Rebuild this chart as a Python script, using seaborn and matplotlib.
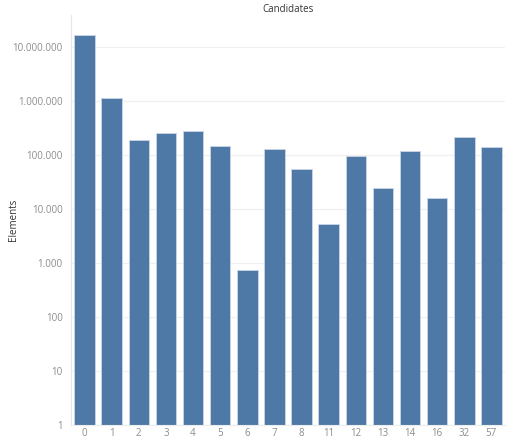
import matplotlib
matplotlib.use("Agg")
import matplotlib.pyplot as plt
import matplotlib.ticker as mticker
import seaborn as sns
import pandas as pd

# Number of elements per candidate count
candidates = ["0", "1", "2", "3", "4", "5", "6", "7", "8", "11", "12", "13", "14", "16", "32", "57"]
elements = [16600000, 1120000, 187000, 252000, 277000, 148000, 740, 127000,
            55000, 5300, 97000, 24700, 118000, 15900, 219000, 141000]
y_ticks = [1, 10, 100, 1000, 10000, 100000, 1000000, 10000000]

df = pd.DataFrame({"Candidates": candidates, "Elements": elements})

sns.set_theme(style="white")
plt.rcParams["font.family"] = ["Open Sans", "DejaVu Sans"]

fig = plt.figure(figsize=(5.07, 4.44), dpi=100)
ax = fig.add_axes([71 / 507, 19 / 444, (505 - 71) / 507, (429 - 19) / 444])

bar_color = "#4e79a7"
sns.barplot(data=df, x="Candidates", y="Elements", order=candidates,
            color=bar_color, saturation=1, width=0.76,
            edgecolor="#c9d6e6", linewidth=0.6, ax=ax)

ax.set_yscale("log")
ax.set_ylim(1, 3.9e7)
ax.set_xlim(-0.5, len(candidates) - 0.5)

def dotted_thousands(v, _pos):
    return f"{int(round(v)):,}".replace(",", ".")

ax.yaxis.set_major_locator(mticker.FixedLocator(y_ticks))
ax.yaxis.set_major_formatter(mticker.FuncFormatter(dotted_thousands))
ax.yaxis.set_minor_locator(mticker.LogLocator(base=10, subs=range(2, 10), numticks=12))
ax.yaxis.set_minor_formatter(mticker.NullFormatter())

ax.grid(axis="y", which="major", color="#f0f0f0", linewidth=0.9)
ax.set_axisbelow(True)

for side in ["top", "right"]:
    ax.spines[side].set_visible(False)
ax.spines["left"].set_color("#e6e6e6")
ax.spines["left"].set_linewidth(0.8)
ax.spines["bottom"].set_color("#ececec")
ax.spines["bottom"].set_linewidth(0.8)

ax.tick_params(axis="y", which="major", length=0, labelsize=7, labelcolor="#8c8c8c", pad=6)
ax.tick_params(axis="y", which="minor", length=2, width=0.5, color="#e0e0e0", direction="out")
ax.tick_params(axis="x", length=0, labelsize=7, labelcolor="#8c8c8c", pad=2)

ax.set_xlabel("")
ax.set_ylabel("Elements", fontsize=7, color="#333333")
ax.yaxis.set_label_coords(-0.12, 0.5)
fig.text(288 / 507, 1 - 9 / 444, "Candidates", ha="center", va="center",
         fontsize=7, color="#333333")

fig.savefig("out.png", dpi=100, facecolor="white")
